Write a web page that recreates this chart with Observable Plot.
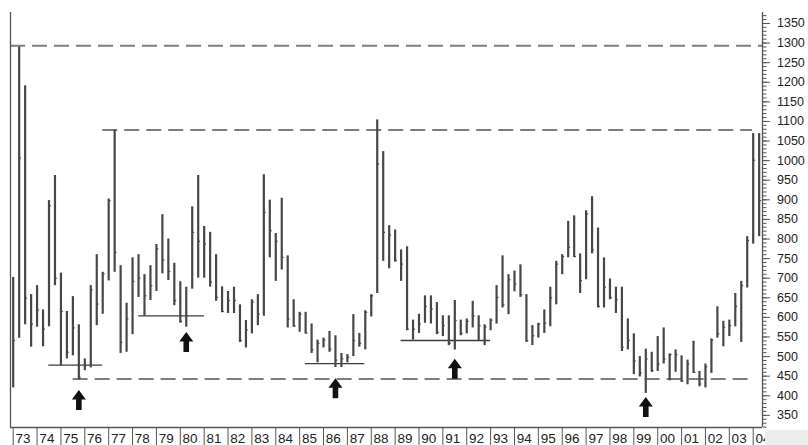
<!DOCTYPE html>
<html>
<head>
<meta charset="utf-8">
<script src="https://cdn.jsdelivr.net/npm/d3@7"></script>
<script src="https://cdn.jsdelivr.net/npm/@observablehq/plot@0.6"></script>
<style>
  body { margin: 0; background: #fff; }
  #chart svg { display: block; }
</style>
</head>
<body>
<div id="chart"></div>
<script>
// Quarterly bars, first bar = 1973 Q1
const startYear = 1973;
const high = [
  702, 1290, 1191, 658, 681, 619, 898, 962, 713, 615, 653, 581, 494, 681, 760, 715,
  902, 1078, 732, 636, 752, 760, 709, 732, 786, 862, 800, 738, 691, 677, 882, 962,
  832, 817, 760, 678, 666, 677, 632, 592, 645, 658, 964, 899, 814, 904, 757, 645,
  613, 613, 583, 542, 547, 564, 553, 508, 505, 607, 559, 617, 658, 1104, 1023, 834,
  823, 772, 780, 593, 608, 655, 655, 638, 604, 604, 643, 593, 596, 641, 604, 581,
  596, 681, 757, 709, 718, 734, 658, 579, 585, 619, 677, 743, 760, 845, 859, 762,
  872, 908, 828, 752, 698, 677, 677, 596, 558, 500, 519, 511, 551, 573, 507, 517,
  502, 491, 539, 462, 481, 545, 627, 590, 593, 661, 692, 806, 1069, 1069
];
const low = [
  420, 547, 581, 524, 575, 525, 576, 681, 477, 494, 502, 440, 464, 471, 579, 608,
  693, 715, 508, 511, 556, 651, 604, 643, 666, 711, 694, 630, 585, 575, 672, 700,
  700, 677, 641, 612, 610, 610, 536, 522, 558, 579, 603, 752, 692, 721, 573, 575,
  562, 558, 508, 484, 522, 511, 472, 472, 484, 500, 524, 517, 601, 661, 743, 724,
  741, 692, 566, 542, 559, 585, 583, 556, 551, 528, 517, 553, 558, 573, 541, 528,
  566, 583, 624, 607, 665, 651, 536, 528, 547, 559, 576, 632, 709, 752, 753, 661,
  696, 762, 624, 624, 645, 610, 513, 517, 454, 448, 406, 460, 462, 481, 438, 460,
  434, 428, 457, 423, 420, 457, 547, 525, 551, 576, 536, 675, 787, 806
];
const close = [
  541, 1007, 649, 583, 619, 570, 885, 700, 615, 511, 573, 447, 477, 670, 634, 711,
  898, 766, 536, 596, 692, 700, 655, 681, 775, 746, 717, 643, 590, 604, 817, 794,
  787, 690, 651, 615, 643, 643, 541, 568, 639, 608, 868, 821, 794, 753, 596, 578,
  608, 560, 517, 534, 542, 519, 491, 494, 498, 541, 534, 613, 655, 991, 817, 810,
  745, 736, 570, 570, 583, 628, 621, 562, 579, 534, 592, 559, 590, 604, 579, 575,
  593, 651, 632, 696, 685, 658, 541, 553, 583, 585, 650, 736, 755, 779, 755, 694,
  864, 772, 628, 677, 650, 645, 524, 541, 489, 458, 494, 464, 481, 494, 505, 505,
  438, 481, 460, 430, 474, 542, 558, 575, 579, 628, 681, 796, 1001, 898
];

// x-axis year ticks and labels
const years = d3.range(1973, 2005);
const yearLabels = ["73","74","75","76","77","78","79","80","81","82","83","84","85","86","87","88",
  "89","90","91","92","93","94","95","96","97","98","99","00","01","02","03","04"];

// y-axis ticks
const majorTicks = d3.range(350, 1351, 50);
const minorTicks = d3.range(320, 1371, 10);

// dashed resistance / support levels
const dashedFrom = [1972.887, 1976.75, 1975.51];
const dashedTo = [2004.39, 2003.97, 2004.01];
const dashedLevel = [1293, 1078, 443];

// solid support lines
const supportFrom = [1974.49, 1978.26, 1985.25, 1989.25];
const supportTo = [1976.75, 1981.01, 1987.73, 1993.0];
const supportLevel = [478, 604, 482, 541];

// arrows (date, level of arrow centre)
const arrowT = [1975.75, 1980.25, 1986.5, 1991.5, 1999.5];
const arrowV = [389, 537, 419, 469, 371];

const xDomain = [1972.887, 2004.39];
const yDomain = [319, 1378];

const bars = high.map((h, i) => ({t: startYear + i / 4, high: h, low: low[i], close: close[i]}));
const dashed = dashedLevel.map((v, i) => ({from: dashedFrom[i], to: dashedTo[i], level: v}));
const support = supportLevel.map((v, i) => ({from: supportFrom[i], to: supportTo[i], level: v}));
const arrows = arrowT.map((t, i) => ({t, v: arrowV[i]}));

const arrowSymbol = {
  draw(ctx) {
    ctx.moveTo(0, -10);
    ctx.lineTo(7, -0.5);
    ctx.lineTo(2.8, -0.5);
    ctx.lineTo(2.8, 10);
    ctx.lineTo(-2.8, 10);
    ctx.lineTo(-2.8, -0.5);
    ctx.lineTo(-7, -0.5);
    ctx.closePath();
  }
};

const ink = "#474747";
const plot = Plot.plot({
  width: 808,
  height: 445,
  marginTop: 12,
  marginBottom: 18,
  marginLeft: 10,
  marginRight: 46,
  x: {domain: xDomain, axis: null},
  y: {domain: yDomain, axis: null},
  style: {fontFamily: "'Liberation Sans', Arial, sans-serif", background: "#fff", color: "#222"},
  marks: [
    Plot.ruleY(dashed, {y: "level", x1: "from", x2: "to", stroke: "#7d7d7d", strokeWidth: 2, strokeDasharray: "15,7"}),
    Plot.ruleY(support, {y: "level", x1: "from", x2: "to", stroke: "#3c3c3c", strokeWidth: 1.3}),
    Plot.ruleX(bars, {x: "t", y1: "low", y2: "high", stroke: ink, strokeWidth: 2.2}),
    Plot.ruleY(bars, {y: "close", x1: "t", x2: d => d.t + 0.1, stroke: ink, strokeWidth: 1.2}),
    Plot.dot(arrows, {x: "t", y: "v", symbol: arrowSymbol, fill: "#111", stroke: "none", r: 5}),
    Plot.ruleX([xDomain[0]], {stroke: "#555", strokeWidth: 1.3}),
    Plot.ruleX([xDomain[1]], {stroke: "#555", strokeWidth: 1.3}),
    Plot.ruleY([yDomain[0]], {stroke: "#555", strokeWidth: 1.3}),
    Plot.axisY({anchor: "right", ticks: minorTicks, tickSize: 3.5, stroke: "#555", tickFormat: () => ""}),
    Plot.axisY({anchor: "right", ticks: majorTicks, tickSize: 7, tickPadding: 7.5, fontSize: 12.5, stroke: "#555", fill: "#222", tickFormat: d => String(d)}),
    Plot.axisX({ticks: years, tickSize: 18, stroke: "#555", tickFormat: () => ""}),
    Plot.axisX({ticks: years, tickSize: 0, tickPadding: 5.5, textAnchor: "start", dx: 2.3, fontSize: 13.5, fill: "#222",
      tickFormat: d => yearLabels[years.indexOf(d)]})
  ]
});

document.getElementById("chart").append(plot);

// light grey corner patch under the right axis (as in the source scan)
const svg = d3.select(plot);
svg.append("rect")
  .attr("x", 808 - 46 + 3).attr("y", 445 - 15)
  .attr("width", 46 - 3).attr("height", 15)
  .attr("fill", "#ececec");
</script>
</body>
</html>
